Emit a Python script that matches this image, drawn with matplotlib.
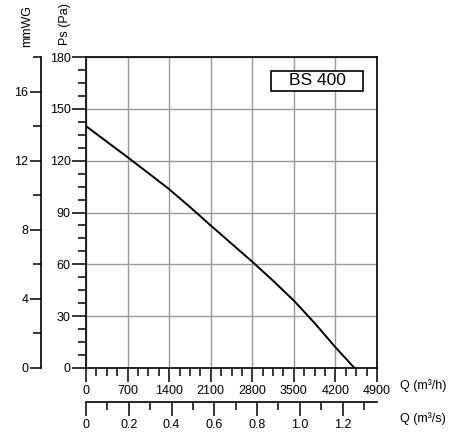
import numpy as np
import matplotlib
matplotlib.use("Agg")
import matplotlib.pyplot as plt
from matplotlib.patches import Rectangle

plt.rcParams['font.family'] = ['Liberation Sans', 'DejaVu Sans']

# curve
flow_m3h = [0, 350, 700, 1050, 1400, 1750, 2100, 2450, 2800, 3150, 3500, 3850, 4200, 4520]
pressure_pa = [140, 131, 122, 112.8, 103.5, 93.2, 82.5, 72, 61.5, 50.5, 39, 26, 12, 0]

x_major = np.arange(0, 4901, 700)
y_major = np.arange(0, 181, 30)
mmwg_major = [0, 4, 8, 12, 16]
mmwg_minor = [2, 6, 10, 14, 18]
ms_major = [0, 0.2, 0.4, 0.6, 0.8, 1.0, 1.2]
ms_labels = ['0', '0.2', '0.4', '0.6', '0.8', '1.0', '1.2']
ms_minor = [0.1, 0.3, 0.5, 0.7, 0.9, 1.1, 1.3]
model = 'BS 400'

fs = 9
fig = plt.figure(figsize=(4.57, 4.34), dpi=100)
ax = fig.add_axes([86 / 457, 1 - 368 / 434, 291 / 457, 311 / 434])

ax.plot(flow_m3h, pressure_pa, color='black', lw=1.4, zorder=3)
ax.set_xlim(0, 4900)
ax.set_ylim(0, 180)
ax.set_xticks(x_major)
ax.set_xticks(np.arange(0, 4901, 175), minor=True)
ax.set_yticks(y_major)
ax.set_yticks(np.arange(0, 181, 7.5), minor=True)
ax.grid(True, which='major', color='#9a9a9a', lw=1.0)
ax.tick_params(which='major', length=10, width=1.1, labelsize=fs, pad=1)
ax.tick_params(which='minor', length=6, width=1.1)
ax.tick_params(axis='x', which='major', pad=2)
for s in ax.spines.values():
    s.set_linewidth(1.2)

# model box
ax.add_patch(Rectangle((0.636, 0.891), 0.316, 0.064, transform=ax.transAxes,
                       facecolor='white', edgecolor='black', lw=1.2, zorder=4))
ax.text(0.794, 0.923, model, transform=ax.transAxes, ha='center', va='center',
        fontsize=12.5, zorder=5)

# mmWG axis
axw = ax.secondary_yaxis(-0.1557, functions=(lambda p: p / 10, lambda m: m * 10))
axw.set_yticks(mmwg_major)
axw.set_yticks(mmwg_minor, minor=True)
axw.tick_params(which='major', length=8, width=1.1, labelsize=fs, pad=1)
axw.tick_params(which='minor', length=6, width=1.1)
axw.spines['left'].set_linewidth(1.2)

# m3/s axis
axs = ax.secondary_xaxis(-0.110, functions=(lambda q: q / 3600, lambda q: q * 3600))
axs.set_xticks(ms_major, labels=ms_labels)
axs.set_xticks(ms_minor, minor=True)
axs.tick_params(which='major', length=10, width=1.1, labelsize=fs, pad=2)
axs.tick_params(which='minor', length=6, width=1.1)
axs.spines['bottom'].set_linewidth(1.2)

fig.text(400 / 457, 1 - 386 / 434, 'Q (m³/h)', fontsize=fs, va='center', ha='left')
fig.text(400 / 457, 1 - 419 / 434, 'Q (m³/s)', fontsize=fs, va='center', ha='left')
fig.text(65 / 457, 1 - 24 / 434, 'Ps (Pa)', fontsize=fs, rotation=90, va='center', ha='center')
fig.text(27 / 457, 1 - 26 / 434, 'mmWG', fontsize=fs, rotation=90, va='center', ha='center')

fig.savefig('out.png', dpi=100)
